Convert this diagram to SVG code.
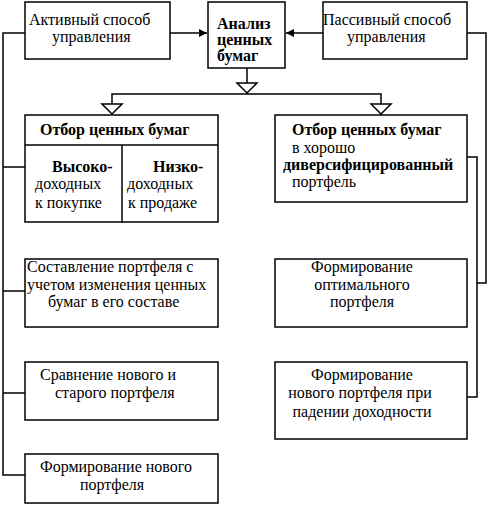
<svg xmlns="http://www.w3.org/2000/svg" width="491" height="505" viewBox="0 0 491 505">
<style>
.box{fill:#fff;stroke:#000;stroke-width:1.5}
.ln{fill:none;stroke:#000;stroke-width:1.5}
.tri{fill:#fff;stroke:#000;stroke-width:1.5}
.t{font-family:'Liberation Serif','DejaVu Serif',serif;font-size:16px;fill:#000}
.b{font-weight:bold}
</style>
<defs>
<marker id="ah" viewBox="0 0 10 10" refX="10" refY="5" markerWidth="8" markerHeight="8" markerUnits="userSpaceOnUse" orient="auto">
<path d="M0,0 L10,5 L0,10 z" fill="#000"/>
</marker>
</defs>
<rect width="491" height="505" fill="#fff"/>
<g id="connectors">
<line class="ln" x1="170" y1="33" x2="207" y2="33" marker-end="url(#ah)"/>
<line class="ln" x1="323" y1="33" x2="286" y2="33" marker-end="url(#ah)"/>
<polyline class="ln" points="25,33 3,33 3,475 25,475"/>
<line class="ln" x1="3" y1="167" x2="25" y2="167"/>
<line class="ln" x1="3" y1="291" x2="25" y2="291"/>
<line class="ln" x1="3" y1="393" x2="25" y2="393"/>
<polyline class="ln" points="467,33 486,33 486,283 477,283"/>
<polyline class="ln" points="467,157 477,157 477,397 467,397"/>
<line class="ln" x1="247" y1="68" x2="247" y2="94"/>
<polyline class="ln" points="112,115 112,94 381,94 381,115"/>
<polygon class="tri" points="237,83 257,83 247,93"/>
<polygon class="tri" points="102,104 122,104 112,114"/>
<polygon class="tri" points="371,104 391,104 381,114"/>
</g>
<g class="t" font-family="Liberation Serif, DejaVu Serif, serif" font-size="16">
<g id="active">
<rect class="box" x="25" y="2" width="145" height="57"/>
<text x="29" y="25">Активный способ</text>
<text x="52" y="42">управления</text>
</g>
<g id="analysis">
<rect class="box" x="208" y="2" width="77" height="66"/>
<text class="b" x="217" y="29">Анализ</text>
<text class="b" x="217" y="45">ценных</text>
<text class="b" x="217" y="61">бумаг</text>
</g>
<g id="passive">
<rect class="box" x="323" y="2" width="144" height="57"/>
<text x="323" y="25">Пассивный способ</text>
<text x="347" y="42">управления</text>
</g>
<g id="selection-left">
<rect class="box" x="25" y="115" width="193" height="107"/>
<line class="ln" x1="25" y1="145" x2="218" y2="145"/>
<line class="ln" x1="122" y1="145" x2="122" y2="223"/>
<text class="b" x="40" y="135">Отбор ценных бумаг</text>
<text class="b" x="52" y="172">Высоко-</text>
<text x="35" y="189">доходных</text>
<text x="35" y="208">к покупке</text>
<text class="b" x="153" y="172">Низко-</text>
<text x="127" y="189">доходных</text>
<text x="128" y="208">к продаже</text>
</g>
<g id="selection-right">
<rect class="box" x="275" y="115" width="192" height="87"/>
<text class="b" x="292" y="135">Отбор ценных бумаг</text>
<text x="292" y="153">в хорошо</text>
<text class="b" x="283" y="170">диверсифицированный</text>
<text x="292" y="187">портфель</text>
</g>
<g id="compose">
<rect class="box" x="25" y="259" width="193" height="68"/>
<text x="27" y="272">Составление портфеля с</text>
<text x="27" y="290">учетом изменения ценных</text>
<text x="48" y="307">бумаг в его составе</text>
</g>
<g id="optimal">
<rect class="box" x="275" y="259" width="192" height="68"/>
<text x="362" y="272" text-anchor="middle">Формирование</text>
<text x="362" y="290" text-anchor="middle">оптимального</text>
<text x="362" y="307" text-anchor="middle">портфеля</text>
</g>
<g id="compare">
<rect class="box" x="25" y="362" width="193" height="58"/>
<text x="40" y="380">Сравнение нового и</text>
<text x="55" y="398">старого портфеля</text>
</g>
<g id="new-on-drop">
<rect class="box" x="275" y="362" width="192" height="77"/>
<text x="362" y="380" text-anchor="middle">Формирование</text>
<text x="360" y="398" text-anchor="middle">нового портфеля при</text>
<text x="362" y="417" text-anchor="middle">падении доходности</text>
</g>
<g id="new-portfolio">
<rect class="box" x="25" y="454" width="193" height="49"/>
<text x="40" y="472">Формирование нового</text>
<text x="80" y="490">портфеля</text>
</g>
</g>
</svg>
